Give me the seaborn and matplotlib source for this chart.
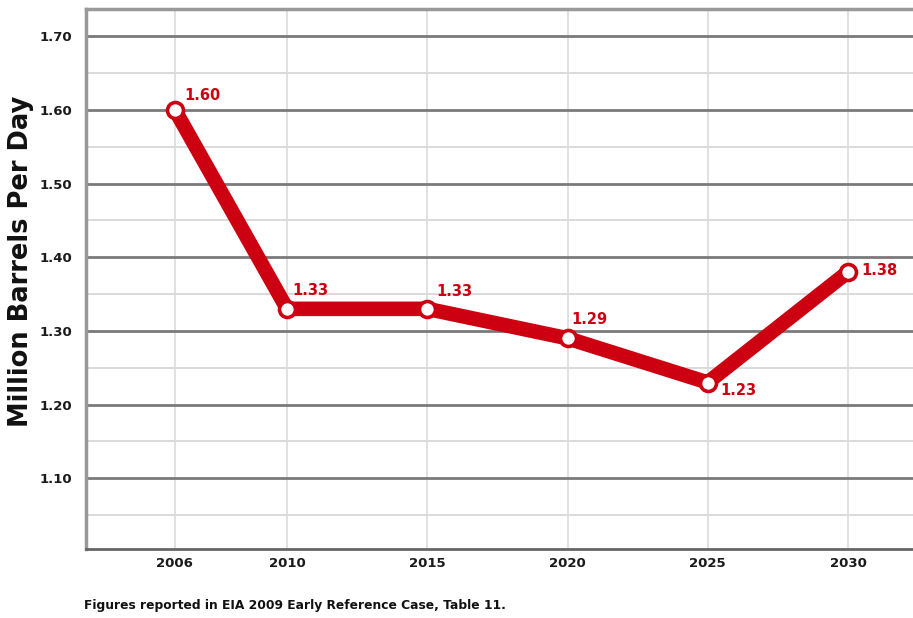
import matplotlib
matplotlib.use("Agg")
import matplotlib.pyplot as plt
import seaborn as sns
import pandas as pd

years = [2006, 2010, 2015, 2020, 2025, 2030]
values = [1.60, 1.33, 1.33, 1.29, 1.23, 1.38]
value_labels = ["1.60", "1.33", "1.33", "1.29", "1.23", "1.38"]
ytick_values = [1.10, 1.20, 1.30, 1.40, 1.50, 1.60, 1.70]
ytick_labels = ["1.10", "1.20", "1.30", "1.40", "1.50", "1.60", "1.70"]
minor_y = [1.05, 1.15, 1.25, 1.35, 1.45, 1.55, 1.65]
ylabel = "Million Barrels Per Day"
footnote = "Figures reported in EIA 2009 Early Reference Case, Table 11."

# label offsets (pixels) - styling
label_offsets = [(9, 14), (5, 18), (9, 17), (4, 19), (13, -8), (13, 2)]

sns.set_theme(style="white")
plt.rcParams['font.family'] = ['DejaVu Sans']

RED = "#cc0011"
df = pd.DataFrame({"year": years, "value": values})

fig = plt.figure(figsize=(9.13, 6.18), dpi=100)
ax = fig.add_axes([86/913, 69/618, (913-86)/913, (549-9)/618])

# grid
for y in minor_y:
    ax.axhline(y, color="#d4d4d4", lw=1.2, zorder=0)
for y in ytick_values:
    ax.axhline(y, color="#7a7a7a", lw=2.0, zorder=0.5)
for x in years:
    ax.axvline(x, color="#dcdcdc", lw=1.2, zorder=0)

sns.lineplot(data=df, x="year", y="value", ax=ax, color=RED, linewidth=10.5,
             marker="o", markersize=11.5, markerfacecolor="white",
             markeredgecolor=RED, markeredgewidth=2.6, zorder=3)

for x, y, lab, (dx, dy) in zip(years, values, value_labels, label_offsets):
    ax.annotate(lab, (x, y), xytext=(dx, dy), textcoords="offset pixels",
                color=RED, fontsize=10.5, fontweight="bold",
                ha="left", va="center", zorder=4)

ax.set_xlim(2002.83, 2032.32)
ax.set_ylim(1.004, 1.737)
ax.set_xticks(years)
ax.set_xticklabels([str(y) for y in years])
ax.set_yticks(ytick_values)
ax.set_yticklabels(ytick_labels)
ax.tick_params(axis="both", length=0, labelsize=9.5, colors="#1a1a1a")
ax.tick_params(axis="x", pad=6)
ax.tick_params(axis="y", pad=10)
for lab in ax.get_xticklabels() + ax.get_yticklabels():
    lab.set_fontweight("bold")
ax.set_xlabel("")
ax.set_ylabel("")

for side in ["left", "top"]:
    ax.spines[side].set_color("#999999")
    ax.spines[side].set_linewidth(2.5)
ax.spines["bottom"].set_color("#666666")
ax.spines["bottom"].set_linewidth(2)
ax.spines["right"].set_visible(False)

fig.text(21/913, 1 - 261/618, ylabel, rotation=90, ha="center", va="center",
         fontsize=18.5, fontweight="bold", color="#111111")
fig.text(84/913, 1 - 606/618, footnote, ha="left", va="center",
         fontsize=8.8, fontweight="bold", color="#111111")

fig.savefig("out.png", dpi=100)
